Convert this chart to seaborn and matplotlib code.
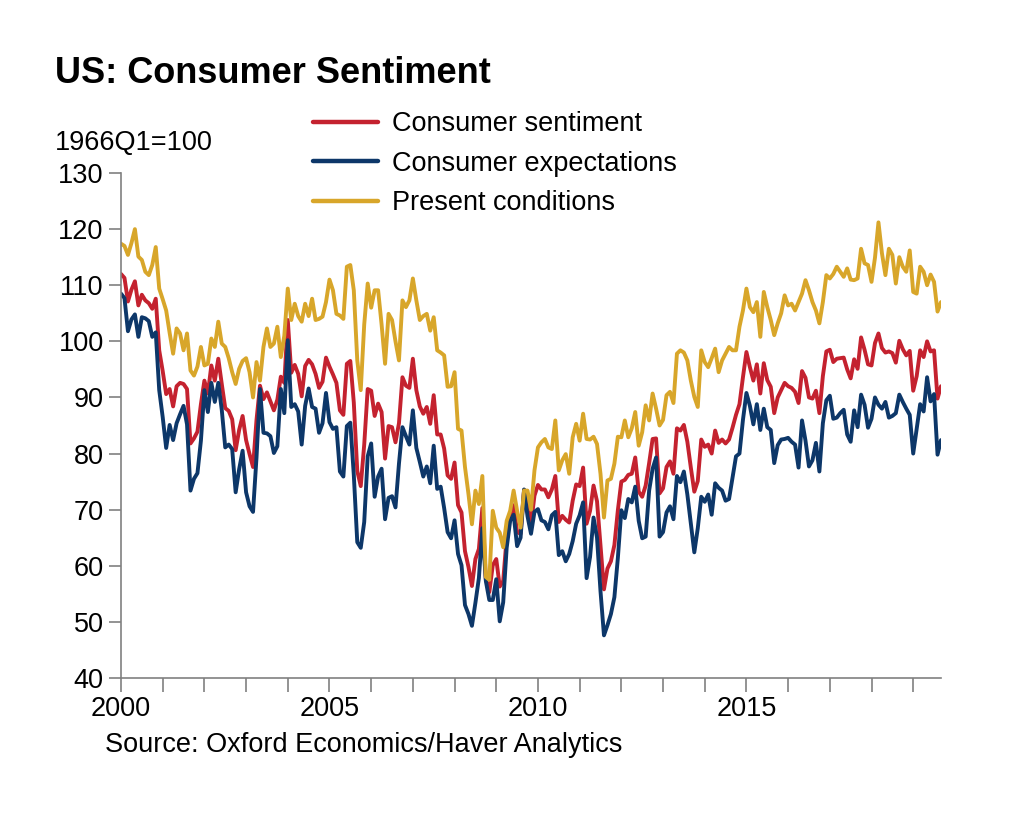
import numpy as np
import pandas as pd
import matplotlib
matplotlib.use("Agg")
import matplotlib.pyplot as plt
import seaborn as sns

# monthly index values, Jan 2000 - Sep 2019 (1966Q1=100)
sentiment = [
    112.0, 111.3, 107.1, 109.2, 110.7, 106.4, 108.3, 107.3, 106.8, 105.8, 107.6, 98.4,
    94.7, 90.6, 91.5, 88.4, 92.0, 92.6, 92.4, 91.5, 81.8, 82.7, 83.9, 88.8,
    93.0, 90.7, 95.7, 93.0, 96.9, 92.4, 88.1, 87.6, 86.1, 80.6, 84.2, 86.7,
    82.4, 79.9, 77.6, 86.0, 92.1, 89.7, 90.9, 89.3, 87.7, 89.6, 93.7, 92.6,
    103.8, 94.4, 95.8, 94.2, 90.2, 95.6, 96.7, 95.9, 94.2, 91.7, 92.8, 97.1,
    95.5, 94.1, 92.6, 87.7, 86.9, 96.0, 96.5, 89.1, 76.9, 74.2, 81.6, 91.5,
    91.2, 86.7, 88.9, 87.4, 79.1, 84.9, 84.7, 82.0, 85.4, 93.6, 92.1, 91.7,
    96.9, 91.3, 88.4, 87.1, 88.3, 85.3, 90.4, 83.4, 83.4, 80.9, 76.1, 75.5,
    78.4, 70.8, 69.5, 62.6, 59.8, 56.4, 61.2, 63.0, 70.3, 57.6, 55.3, 60.1,
    61.2, 56.3, 57.3, 65.1, 68.7, 70.8, 66.0, 65.7, 73.5, 70.6, 67.4, 72.5,
    74.4, 73.6, 73.6, 72.2, 73.6, 76.0, 67.8, 68.9, 68.2, 67.7, 71.6, 74.5,
    74.2, 77.5, 67.5, 69.8, 74.3, 71.5, 63.7, 55.8, 59.5, 60.8, 63.7, 69.9,
    75.0, 75.3, 76.2, 76.4, 79.3, 73.2, 72.3, 74.3, 78.3, 82.6, 82.7, 72.9,
    73.8, 77.6, 78.6, 76.4, 84.5, 84.1, 85.1, 82.1, 77.5, 73.2, 75.1, 82.5,
    81.2, 81.6, 80.0, 84.1, 81.9, 82.5, 81.8, 82.5, 84.6, 86.9, 88.8, 93.6,
    98.1, 95.4, 93.0, 95.9, 90.7, 96.1, 93.1, 91.9, 87.2, 90.0, 91.3, 92.6,
    92.0, 91.7, 91.0, 89.0, 94.7, 93.5, 90.0, 89.8, 91.2, 87.2, 93.8, 98.2,
    98.5, 96.3, 96.9, 97.0, 97.1, 95.0, 93.4, 96.8, 95.1, 100.7, 98.5, 95.9,
    95.7, 99.7, 101.4, 98.8, 98.0, 98.2, 97.9, 96.2, 100.1, 98.6, 97.5, 98.3,
    91.2, 93.8, 98.4, 97.2, 100.0, 98.2, 98.4, 89.8, 92.0,
]

expectations = [
    108.5, 107.7, 101.8, 103.9, 104.8, 100.8, 104.3, 104.1, 103.6, 100.8, 101.6, 91.3,
    86.5, 81.0, 85.1, 82.4, 85.4, 87.0, 88.5, 85.2, 73.4, 75.5, 76.5, 82.3,
    91.3, 87.4, 92.6, 89.2, 92.6, 87.8, 81.1, 81.6, 80.8, 73.1, 77.2, 80.5,
    73.1, 70.6, 69.6, 79.3, 91.5, 83.7, 83.6, 83.1, 80.1, 81.3, 91.5, 87.2,
    100.2, 88.3, 88.8, 87.5, 81.6, 88.5, 91.6, 88.3, 88.0, 83.7, 85.4, 90.8,
    85.6, 84.4, 84.7, 76.8, 75.9, 84.9, 85.5, 76.2, 64.2, 63.2, 67.8, 79.5,
    81.8, 72.3, 75.9, 77.3, 68.3, 72.1, 72.4, 70.4, 78.2, 84.7, 83.1, 81.6,
    87.7, 81.0, 78.5, 75.9, 77.7, 74.7, 81.4, 73.7, 74.1, 70.3, 66.0, 64.9,
    68.1, 62.1, 60.1, 53.0, 51.4, 49.3, 53.4, 57.8, 66.7, 57.3, 53.9, 53.9,
    57.6, 50.1, 53.5, 63.2, 68.0, 69.1, 63.5, 65.0, 73.6, 68.8, 65.7, 69.6,
    70.1, 68.1, 67.8, 66.5, 69.0, 69.6, 61.9, 62.6, 60.8, 62.1, 64.4, 67.5,
    69.0, 71.3, 57.8, 61.6, 68.6, 65.0, 55.5, 47.6, 49.4, 51.4, 54.4, 61.4,
    69.9, 68.5, 71.9, 71.3, 74.1, 68.0, 64.9, 65.2, 73.4, 77.3, 79.3, 65.2,
    66.0, 69.5, 70.6, 68.3, 76.0, 74.9, 76.8, 72.7, 67.5, 62.4, 66.7, 72.3,
    71.4, 72.7, 69.1, 74.7, 73.9, 73.4, 71.6, 71.9, 75.7, 79.5, 80.0, 86.0,
    90.8, 88.5, 85.2, 88.8, 84.2, 88.0, 84.7, 84.2, 78.3, 81.5, 82.5, 82.6,
    82.8, 82.1, 81.6, 77.5, 85.9, 82.3, 77.7, 78.8, 81.9, 76.8, 85.4, 89.5,
    90.3, 86.2, 86.4, 87.2, 87.8, 83.4, 82.1, 87.7, 84.7, 90.5, 88.7, 84.6,
    86.2, 90.0, 88.7, 88.0, 89.2, 86.4, 86.7, 87.2, 90.5, 89.2, 88.0, 86.9,
    80.0, 84.4, 88.8, 87.5, 93.6, 89.3, 90.6, 79.8, 82.4,
]

present = [
    117.4, 117.0, 115.4, 117.5, 120.0, 115.1, 114.5, 112.4, 111.8, 113.6, 116.8, 109.4,
    107.5, 105.5, 101.5, 97.8, 102.3, 101.4, 98.4, 101.4, 94.8, 93.9, 95.5, 99.0,
    95.7, 96.0, 100.5, 99.0, 103.5, 99.6, 99.0, 97.0, 94.5, 92.4, 95.1, 96.5,
    97.0, 94.5, 90.0, 96.3, 93.0, 99.0, 102.3, 99.0, 99.6, 102.6, 97.2, 101.0,
    109.4, 103.8, 106.7, 104.5, 103.5, 106.7, 104.5, 107.6, 103.8, 104.0, 104.4, 107.0,
    111.0, 109.1, 104.9, 104.6, 104.0, 113.3, 113.6, 109.1, 96.6, 91.3, 103.0, 110.3,
    106.0, 109.1, 109.1, 103.0, 96.0, 104.9, 103.8, 100.0, 96.6, 107.3, 106.1, 107.3,
    111.2, 107.3, 103.8, 104.5, 104.9, 101.9, 104.3, 98.4, 98.0, 97.5, 91.9, 92.0,
    94.5, 84.4, 84.1, 77.6, 72.8, 67.4, 73.4, 71.0, 76.0, 58.0, 57.5, 69.8,
    66.8, 65.9, 63.3, 68.0, 69.8, 73.4, 69.8, 66.8, 73.4, 73.4, 70.0, 77.0,
    81.1, 82.0, 82.6, 81.1, 80.8, 85.9, 77.0, 78.8, 79.9, 76.4, 82.9, 85.3,
    82.3, 87.1, 82.6, 82.5, 83.0, 81.7, 76.4, 68.6, 75.2, 75.5, 78.2, 83.0,
    82.9, 85.9, 82.9, 84.5, 87.4, 81.4, 83.8, 88.6, 85.9, 90.7, 88.0, 85.0,
    86.0, 90.4, 91.0, 89.0, 97.8, 98.4, 98.0, 96.6, 93.0, 90.1, 88.3, 98.4,
    96.3, 95.4, 97.0, 98.7, 94.5, 96.6, 97.8, 99.0, 98.4, 98.4, 102.6, 105.5,
    109.4, 106.1, 105.2, 107.0, 100.8, 108.8, 106.1, 103.8, 101.1, 103.2, 105.0, 108.2,
    106.4, 106.7, 105.5, 107.0, 108.5, 110.9, 109.1, 107.0, 105.5, 103.2, 107.0, 111.8,
    111.2, 112.0, 113.3, 112.4, 111.5, 113.0, 111.0, 110.9, 111.2, 116.5, 113.9, 113.6,
    110.6, 114.9, 121.2, 115.7, 111.8, 116.5, 115.4, 110.3, 115.0, 113.3, 112.4, 116.2,
    108.8, 108.5, 113.3, 112.4, 110.0, 111.9, 110.6, 105.3, 107.0,
]

labels = ["Consumer sentiment", "Consumer expectations", "Present conditions"]
colors = ["#c4222f", "#0d3769", "#d8a62a"]

# decimal-year positions for each month
dates = 2000 + np.arange(len(sentiment)) / 12

df = pd.DataFrame({
    "date": np.tile(dates, 3),
    "value": sentiment + expectations + present,
    "series": np.repeat(labels, len(dates)),
})

sns.set_theme(style="ticks")
plt.rcParams["font.family"] = ["Liberation Sans", "DejaVu Sans"]
plt.rcParams["text.color"] = "black"

fig = plt.figure(figsize=(10.24, 8.13), dpi=100)
ax = fig.add_axes([121 / 1024, 135 / 813, 820 / 1024, 505 / 813])

sns.lineplot(data=df, x="date", y="value", hue="series", hue_order=labels,
             palette=dict(zip(labels, colors)), linewidth=2.8, ax=ax)

ax.set_xlim(2000, dates[-1])
ax.set_ylim(40, 130)
ax.set_yticks(range(40, 131, 10))
years = list(range(2000, 2020))
ax.set_xticks(years)
ax.set_xticklabels([str(y) if y % 5 == 0 else "" for y in years])
ax.set_xlabel("")
ax.set_ylabel("")

for side in ["top", "right"]:
    ax.spines[side].set_visible(False)
for side in ["left", "bottom"]:
    ax.spines[side].set_color("#808080")
    ax.spines[side].set_linewidth(1.2)

ax.tick_params(axis="x", direction="out", length=10, width=1.2, color="#808080",
               pad=3, labelsize=19.5, labelcolor="black")
ax.tick_params(axis="y", direction="out", length=8.5, width=1.2, color="#808080",
               pad=4, labelsize=19.5, labelcolor="black")

handles, _ = ax.get_legend_handles_labels()
leg = ax.legend(handles, labels, loc="upper left",
                bbox_to_anchor=(313 / 1024, 1 - 111 / 813),
                bbox_transform=fig.transFigure, frameon=False, fontsize=19.5,
                handlelength=2.4, handletextpad=0.5, labelspacing=0.5,
                borderpad=0, borderaxespad=0)
for line in leg.get_lines():
    line.set_linewidth(3.2)
for txt in leg.get_texts():
    txt.set_color("black")

fig.text(55 / 1024, 1 - 83 / 813, "US: Consumer Sentiment", fontsize=26,
         fontweight="bold", ha="left", va="baseline", color="black")
fig.text(55 / 1024, 1 - 150 / 813, "1966Q1=100", fontsize=19.5,
         ha="left", va="baseline", color="black")
fig.text(105 / 1024, 1 - 752 / 813, "Source: Oxford Economics/Haver Analytics",
         fontsize=19.5, ha="left", va="baseline", color="black")

fig.savefig("out.png", dpi=100)
